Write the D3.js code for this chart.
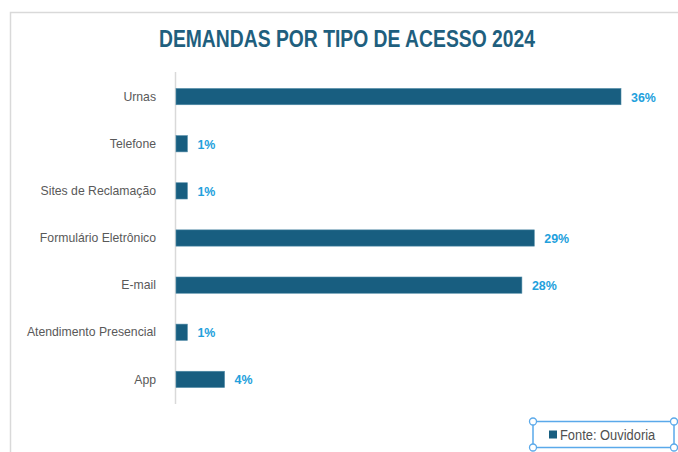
<!DOCTYPE html>
<html>
<head>
<meta charset="utf-8">
<script src="https://cdn.jsdelivr.net/npm/d3@7/dist/d3.min.js"></script>
<style>
  html, body { margin: 0; padding: 0; background: #fff; }
  svg { display: block; }
</style>
</head>
<body>
<div id="chart"></div>
<script>
// Access channels and their share of total demands (%)
const categories = ["Urnas", "Telefone", "Sites de Reclamação", "Formulário Eletrônico", "E-mail", "Atendimento Presencial", "App"];
const values = [36, 1, 1, 29, 28, 1, 4];
const valueLabels = ["36%", "1%", "1%", "29%", "28%", "1%", "4%"];
const titleText = "DEMANDAS POR TIPO DE ACESSO 2024";
const legendText = "Fonte: Ouvidoria";

const W = 678, H = 452;
const barColor = "#185e80";
const labelColor = "#22a0dc";
const font = "'Liberation Sans', Arial, sans-serif";

// squeeze a text element horizontally, like a condensed face
function condense(sel, factor) {
  sel.each(function () {
    const len = this.getComputedTextLength();
    d3.select(this).attr("textLength", len * factor).attr("lengthAdjust", "spacingAndGlyphs");
  });
}

const svg = d3.select("#chart").append("svg")
  .attr("width", W).attr("height", H);

// chart area frame
svg.append("rect")
  .attr("x", 10.5).attr("y", 12.5)
  .attr("width", W + 20).attr("height", H + 20)
  .attr("fill", "#fff").attr("stroke", "#d9d9d9").attr("stroke-width", 1.5);

// title
svg.append("text")
  .attr("x", 347).attr("y", 47)
  .attr("text-anchor", "middle")
  .attr("font-family", font)
  .attr("font-weight", "bold")
  .attr("font-size", 23)
  .attr("fill", "#1f5f7e")
  .text(titleText)
  .call(condense, 0.84);

const x = d3.scaleLinear().domain([0, 36]).range([175, 621]);
const y = d3.scaleBand().domain(categories).range([72, 404]).paddingInner(0.655).paddingOuter(0.35);

// category axis
const yAxis = d3.axisLeft(y).tickSize(0).tickPadding(19);
const gy = svg.append("g").attr("transform", `translate(${x(0)},0)`).call(yAxis);
gy.select(".domain").attr("stroke", "#d9d9d9").attr("stroke-width", 1.5)
  .attr("d", `M0.5,72V404`);
gy.selectAll(".tick text")
  .attr("font-family", font)
  .attr("font-size", 13)
  .attr("fill", "#595959")
  .call(condense, 0.94);

// bars
svg.selectAll("rect.bar").data(values).join("rect")
  .attr("class", "bar")
  .attr("x", x(0) + 1)
  .attr("y", (d, i) => y(categories[i]))
  .attr("width", d => x(d) - x(0) - 1)
  .attr("height", y.bandwidth())
  .attr("fill", barColor)
  .attr("stroke", "#4f8aa6").attr("stroke-width", 0.6);

// value labels
svg.selectAll("text.val").data(values).join("text")
  .attr("class", "val")
  .attr("x", d => x(d) + 10)
  .attr("y", (d, i) => y(categories[i]) + y.bandwidth() / 2 + 5)
  .attr("font-family", font)
  .attr("font-weight", "bold")
  .attr("font-size", 13.5)
  .attr("fill", labelColor)
  .text((d, i) => valueLabels[i])
  .call(condense, 0.92);

// legend, shown selected with its handles
const lg = svg.append("g");
lg.append("rect")
  .attr("x", 533).attr("y", 421.5).attr("width", 141).attr("height", 26)
  .attr("fill", "#fff").attr("stroke", "#5aa9ea").attr("stroke-width", 1.5);
[[533, 421.5], [674, 421.5], [533, 447.5], [674, 447.5]].forEach(([cx, cy]) => {
  lg.append("circle").attr("cx", cx).attr("cy", cy).attr("r", 3.5)
    .attr("fill", "#fff").attr("stroke", "#5aa9ea").attr("stroke-width", 1.3);
});
lg.append("rect")
  .attr("x", 549).attr("y", 430.5).attr("width", 8).attr("height", 8)
  .attr("fill", barColor);
lg.append("text")
  .attr("x", 560).attr("y", 439.5)
  .attr("font-family", font)
  .attr("font-size", 14)
  .attr("fill", "#505050")
  .text(legendText)
  .call(condense, 0.92);
</script>
</body>
</html>
